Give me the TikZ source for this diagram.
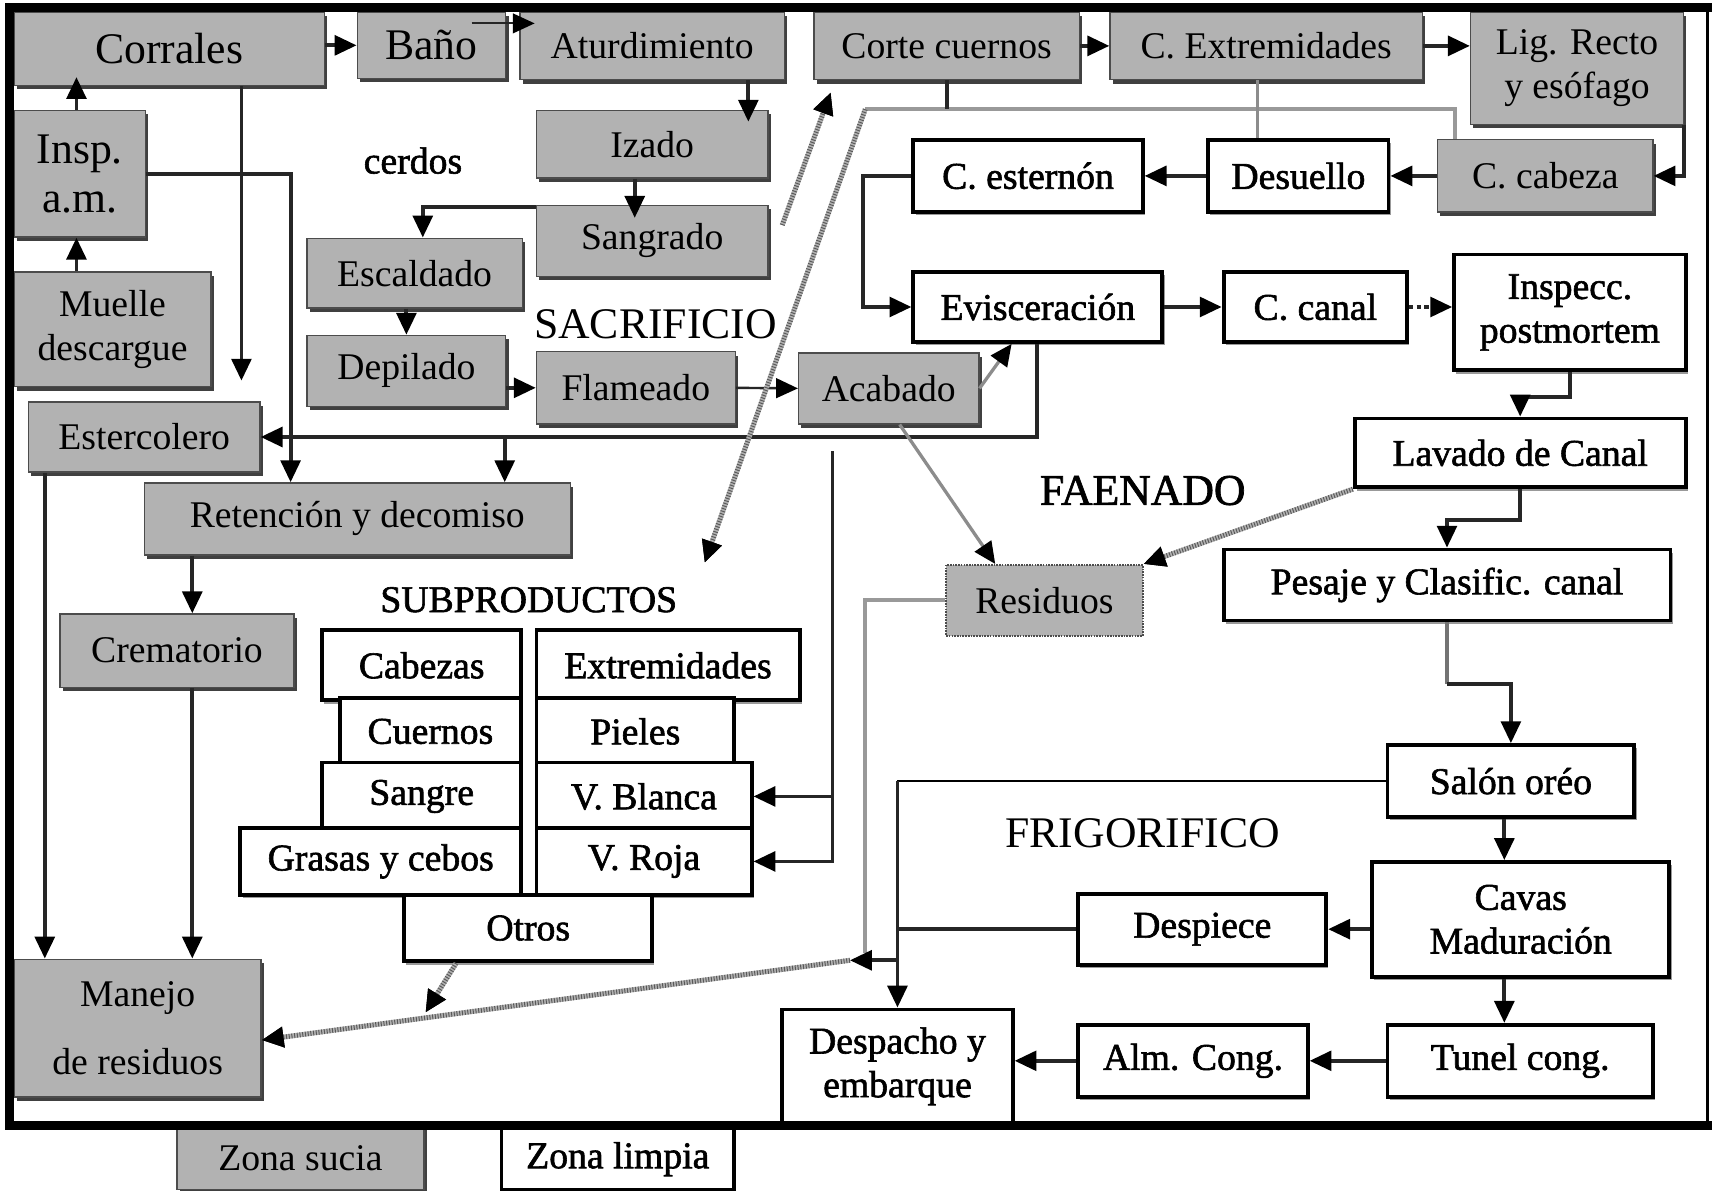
\documentclass[tikz,border=0pt]{standalone}
\usepackage{fontspec}
\setmainfont{Liberation Serif}
\newfontfamily\embf{Liberation Serif}[FakeBold=1.6]
\usetikzlibrary{arrows.meta,shadows}
\definecolor{boxgray}{RGB}{178,178,178}
\newcommand\fa{\fontsize{34.5}{40}\selectfont}
\newcommand\fb{\fontsize{40}{45}\selectfont}
\begin{document}
\begin{tikzpicture}[x=1pt,y=-1pt,
  gbox/.style={draw=black!70, line width=1.2pt, fill=boxgray, inner sep=0pt, font=\fa, align=center,
     drop shadow={shadow xshift=2.5pt, shadow yshift=-3.5pt, fill=black!75, opacity=1}},
  wbox/.style={draw=black, line width=3.5pt, fill=white, inner sep=0pt, font=\fa\embf, align=center,
     drop shadow={shadow xshift=2pt, shadow yshift=-3pt, fill=black!40, opacity=1}},
  rbox/.style={draw=black!70, densely dotted, line width=1.5pt, fill=boxgray, inner sep=0pt, font=\fa},
  tip/.style={-{Triangle[length=20pt,width=18pt,color=black]}},
  arr/.style={line width=3.5pt, draw=black!85, tip},
  bline/.style={line width=3.5pt, draw=black!85},
  gline/.style={line width=3.5pt, draw=black!40},
  glinethin/.style={line width=2.2pt, draw=black!45},
  garr/.style={line width=3pt, draw=black!45, tip},
  hatch/.style={draw=black!30, line width=4.5pt, postaction={draw=black!65, line width=4.5pt, dash pattern=on 0.9pt off 1.6pt}},
  harr/.style={hatch, tip},
  lbl/.style={inner sep=0pt}
]
\useasboundingbox (0,0) rectangle (1568,1090);
\fill[white] (0,0) rectangle (1568,1090);

% gray boxes
\node[gbox, font=\fb, minimum width=284pt, minimum height=67pt] (corr) at (155,44.5) {Corrales};
\node[gbox, font=\fb, minimum width=136pt, minimum height=61pt] (bano) at (395,41.5) {Baño};
\node[gbox, minimum width=242pt, minimum height=62pt] (atur) at (597,42) {Aturdimiento};
\node[gbox, minimum width=243pt, minimum height=62pt] (corte) at (866.5,42) {Corte cuernos};
\node[gbox, minimum width=286pt, minimum height=62pt] (cext) at (1159,42) {C. Extremidades};
\node[gbox, minimum width=195pt, minimum height=103pt] (lig) at (1443.5,62.5) {Lig. Recto\\y esófago};
\node[gbox, font=\fb, minimum width=120pt, minimum height=116pt] (insp) at (73,159) {Insp.\\a.m.};
\node[gbox, minimum width=180pt, minimum height=105pt] (muelle) at (103,301.5) {Muelle\\descargue};
\node[gbox, minimum width=212pt, minimum height=62pt] (izado) at (597,132) {Izado};
\node[gbox, minimum width=212pt, minimum height=65pt] (sang) at (597,220.5) {Sangrado};
\node[gbox, minimum width=197pt, minimum height=64pt] (escal) at (379.5,250) {Escaldado};
\node[gbox, minimum width=182pt, minimum height=65pt] (depil) at (372,339.5) {Depilado};
\node[gbox, minimum width=182pt, minimum height=66pt] (flam) at (582,355) {Flameado};
\node[gbox, minimum width=165pt, minimum height=65pt] (acab) at (813.5,355.5) {Acabado};
\node[gbox, minimum width=212pt, minimum height=64pt] (ester) at (132,400) {Estercolero};
\node[gbox, minimum width=390pt, minimum height=66pt] (ret) at (327,475) {Retención y decomiso};
\node[gbox, minimum width=214pt, minimum height=67pt] (crem) at (162,595.5) {Crematorio};
\node[gbox, minimum width=226pt, minimum height=126pt] (manejo) at (126,941) {Manejo\\[22pt]de residuos};
\node[rbox, minimum width=180pt, minimum height=65pt] (resid) at (956,549.5) {Residuos};
\node[gbox, minimum width=197pt, minimum height=66pt] (ccab) at (1414.5,161) {C. cabeza};
\node[gbox, minimum width=226pt, minimum height=58pt] (zsucia) at (275,1060) {Zona sucia};

% white boxes
\node[wbox, minimum width=210pt, minimum height=66pt] (cest) at (941,161) {C. esternón};
\node[wbox, minimum width=165pt, minimum height=66pt] (desu) at (1188.5,161) {Desuello};
\node[wbox, minimum width=228pt, minimum height=64pt] (evis) at (950,281) {Evisceración};
\node[wbox, minimum width=168pt, minimum height=64pt] (ccan) at (1204,281) {C. canal};
\node[wbox, minimum width=212pt, minimum height=106pt] (inspec) at (1437,286) {Inspecc.\\postmortem};
\node[wbox, minimum width=303pt, minimum height=63pt] (lav) at (1391.5,414.5) {Lavado de Canal};
\node[wbox, minimum width=409pt, minimum height=65pt] (pes) at (1324.5,535.5) {Pesaje y Clasific. canal};
\node[wbox, minimum width=226pt, minimum height=66pt] (salon) at (1383,715) {Salón oréo};
\node[wbox, minimum width=272pt, minimum height=105pt] (cavas) at (1392,841.5) {Cavas\\Maduración};
\node[wbox, minimum width=227pt, minimum height=65pt] (desp) at (1100.5,850.5) {Despiece};
\node[wbox, minimum width=243pt, minimum height=66pt] (tunel) at (1391.5,971) {Tunel cong.};
\node[wbox, minimum width=210pt, minimum height=66pt] (alm) at (1092,971) {Alm. Cong.};
\node[wbox, minimum width=211pt, minimum height=104pt] (despa) at (821.5,976) {Despacho y\\embarque};
\node[wbox, minimum width=213pt, minimum height=56pt] (zlimp) at (565.5,1061) {Zona limpia};

% subproductos table
\node[wbox, minimum width=182pt, minimum height=64pt] (cabez) at (386,609) {Cabezas};
\node[wbox, minimum width=241pt, minimum height=64pt] (extrem) at (611.5,609) {Extremidades};
\node[wbox, minimum width=166pt, minimum height=61pt] (cuern) at (394,669.5) {Cuernos};
\node[wbox, minimum width=181pt, minimum height=61pt] (piel) at (581.5,669.5) {Pieles};
\node[wbox, minimum width=182pt, minimum height=62pt] (sangre) at (386,729) {Sangre};
\node[wbox, minimum width=197pt, minimum height=62pt] (vbl) at (589.5,729) {V. Blanca};
\node[wbox, minimum width=257pt, minimum height=61pt] (grasa) at (348.5,788.5) {Grasas y cebos};
\node[wbox, minimum width=197pt, minimum height=61pt] (vroja) at (589.5,788.5) {V. Roja};
\node[wbox, minimum width=227pt, minimum height=61pt] (otros) at (483.5,849.5) {Otros};

% labels
\node[lbl, font=\fa\embf] (cerdos) at (378,147) {cerdos};
\node[lbl, font=\fb] (sacr) at (600,297) {SACRIFICIO};
\node[lbl, font=\fb\embf] (faen) at (1046,449) {FAENADO};
\node[lbl, font=\fa\embf] (subpl) at (484,549) {SUBPRODUCTOS};
\node[lbl, font=\fb] (frig) at (1046,763) {FRIGORIFICO};

% connectors - sacrificio
\draw[arr] (corr.east |- bano.west) -- (bano.west);
\draw[arr, line width=2pt] ([shift={(-32,11)}]bano.north east) -- ([shift={(14,11)}]atur.north west);
\draw[arr, shorten >=-11pt] (atur.south -| 685,0) -- (izado.north -| 685,0);
\draw[arr, shorten >=-12pt] (izado.south -| 581,0) -- (sang.north -| 581,0);
\draw[arr] ([yshift=-2pt]sang.north west) -| (escal.north -| 387,0);
\draw[arr] (escal.south -| depil.north) -- (depil.north);
\draw[arr] (depil.east |- flam.west) -- (flam.west);
\draw[arr, line width=2.2pt] (flam.east) -- (acab.west);
\draw[garr] (acab.east) -- (evis.south -| 926,0);

% left column
\draw[arr, shorten >=-8pt] (insp.north -| 70,0) -- (corr.south -| 70,0);
\draw[arr] (muelle.north -| 70,0) -- (insp.south -| 70,0);
\draw[arr, shorten >=19pt] (corr.south -| 221,0) -- (ester.north -| 221,0);
\draw[arr] (insp.east) -| (ret.north -| 266,0);
\draw[arr] (evis.south -| 949,0) |- (ester.east);
\draw[arr] (ester.east -| 462,0) -- (ret.north -| 462,0);
\draw[arr] (ester.south -| 41,0) -- (manejo.north -| 41,0);
\draw[arr] (ret.south -| 176,0) -- (crem.north -| 176,0);
\draw[arr] (crem.south -| 176,0) -- (manejo.north -| 176,0);

% faenado
\coordinate (g1) at (792,100);
\coordinate (subp) at (645,515);
\coordinate (hb) at (716,206);
\draw[gline] (ccab.north -| 1332,0) |- (g1);
\draw[bline] (corte.south) -- (corte.south |- g1);
\draw[glinethin] (cext.south -| 1151,0) -- (desu.north -| 1151,0);
\draw[harr] (g1) -- (subp);
\draw[harr] (hb) -- ([shift={(16,11)}]corte.south west);
\draw[arr] (corte.east) -- (cext.west);
\draw[arr] (cext.east) -- (lig.west |- cext.east);
\draw[arr] (lig.south east) |- (ccab.east);
\draw[arr] (ccab.west) -- (desu.east);
\draw[arr] (desu.west) -- (cest.east);
\draw[arr] (cest.west) -- ++(-44,0) |- (evis.west);
\draw[arr] (evis.east) -- (ccan.west);
\draw[arr, dash pattern=on 4pt off 3pt] (ccan.east) -- (inspec.west |- ccan.east);
\draw[arr] (inspec.south) -- ++(0,23) -| (lav.north);
\draw[arr] (lav.south) -- ++(0,28) -| (pes.north);
\draw[harr] (lav.south west) -- (resid.north east);
\draw[garr] ([xshift=10pt]acab.south) -- ([xshift=-45pt]resid.north);

% subproductos feed
\coordinate (vtop) at (762,413);
\draw[arr] (vtop) |- (vroja.east);
\draw[arr] (vbl.east -| vtop) -- (vbl.east);

% frigorifico
\draw[line width=3.5pt, draw=black!55] (pes.south) -- ++(0,56) coordinate (ps1);
\draw[arr] (ps1) -| (salon.north);
\draw[arr] (salon.south -| 1377,0) -- (cavas.north -| 1377,0);
\draw[arr] (cavas.west |- desp.east) -- (desp.east);
\draw[arr] (cavas.south -| 1377,0) -- (tunel.north -| 1377,0);
\draw[arr] (tunel.west) -- (alm.east);
\draw[arr] (alm.west) -- (despa.east |- alm.west);
\draw[line width=2.2pt] (salon.west) -- (salon.west -| despa.north);
\draw[arr] (salon.west -| despa.north) -- (despa.north);
\draw[bline] (desp.west) -- (desp.west -| despa.north);

% residuos
\coordinate (mj) at (778,879);
\coordinate (rj) at (792,872);
\draw[gline] (resid.west) -| (rj);
\draw[arr] (despa.north |- mj) -- (mj);
\draw[harr] (mj) -- ([yshift=-11pt]manejo.east);
\draw[harr] ([xshift=-66pt]otros.south) -- ++(-28,45);

% frame
\draw[line width=8pt, line cap=rect] (1563,7) -- (9,7) -- (9,1030) -- (1563,1030);
\draw[line width=3pt] (1563,7) -- (1563,1030);
\end{tikzpicture}
\end{document}
